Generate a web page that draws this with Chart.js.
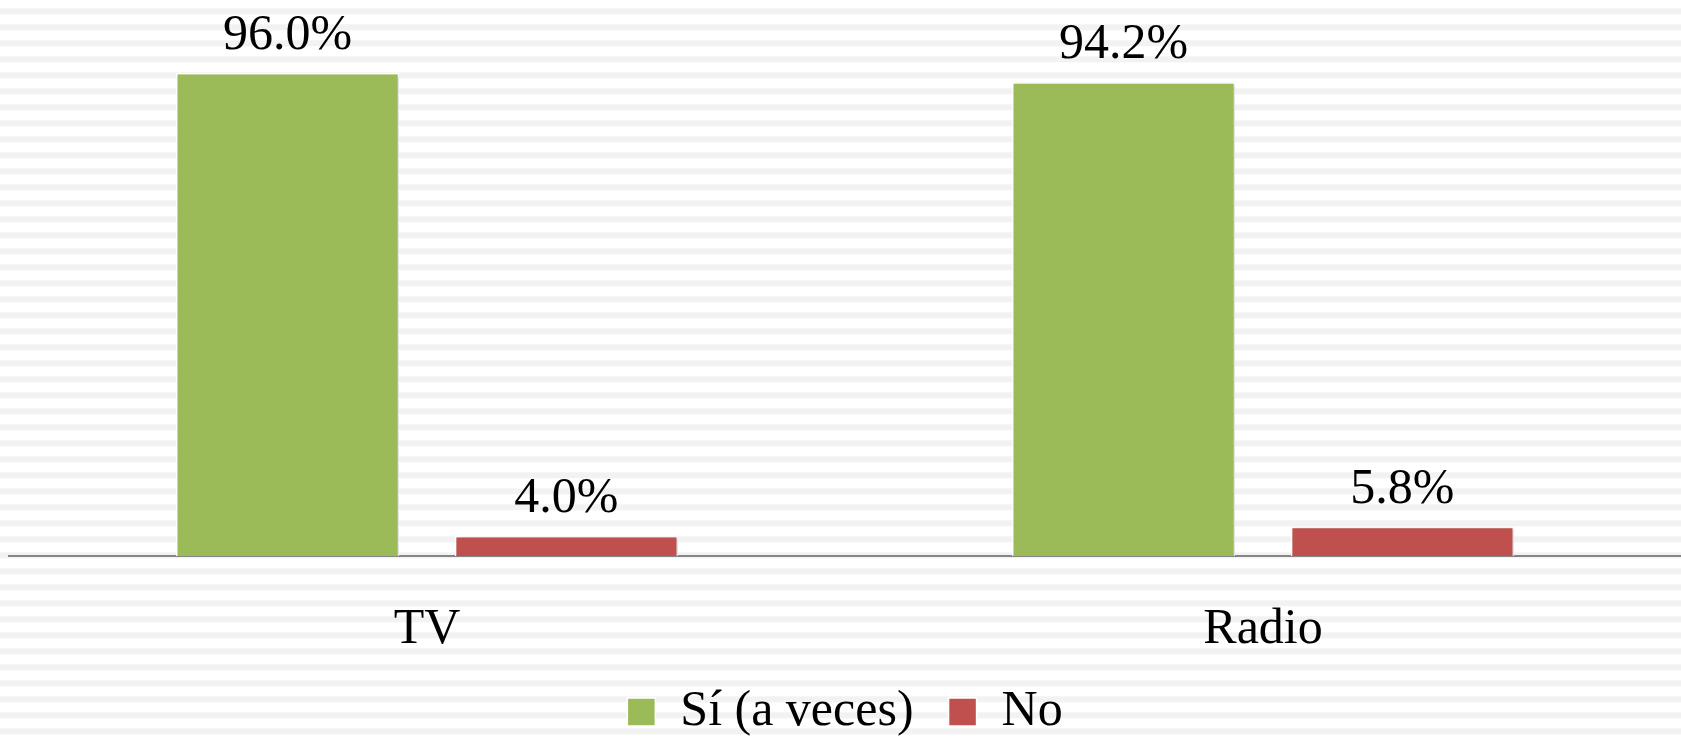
<!DOCTYPE html>
<html>
<head>
<meta charset="utf-8">
<script src="https://cdn.jsdelivr.net/npm/chart.js@4"></script>
<style>
    html, body { margin: 0; padding: 0; background: #fff; }
    #wrap { width: 1681px; height: 736px; }
</style>
</head>
<body>
<div id="wrap"><canvas id="chart"></canvas></div>
<script>
"use strict";

const categories = ["TV", "Radio"];
const seriesNames = ["Sí (a veces)", "No"];
const siValues = [96.0, 94.2];
const noValues = [4.0, 5.8];
const seriesColors = ["#9bbb59", "#c0504d"];

const FONT = "'Liberation Serif', 'Times New Roman', serif";

// striped background like the slide template
const stripes = {
    id: "stripes",
    beforeDraw(chart) {
        const { ctx, width, height } = chart;
        ctx.save();
        ctx.fillStyle = "#ffffff";
        ctx.fillRect(0, 0, width, height);
        ctx.fillStyle = "#f2f2f2";
        for (let y = 8.3; y < height; y += 16) {
            ctx.fillRect(0, y, width, 6);
        }
        ctx.restore();
    }
};

const barShadow = {
    id: "barShadow",
    beforeDatasetsDraw(chart) {
        const ctx = chart.ctx;
        ctx.save();
        ctx.shadowColor = "rgba(0, 0, 0, 0.22)";
        ctx.shadowBlur = 3;
        ctx.shadowOffsetX = 1.5;
        ctx.shadowOffsetY = 1;
    },
    afterDatasetsDraw(chart) {
        chart.ctx.restore();
    }
};

const valueLabels = {
    id: "valueLabels",
    afterDatasetsDraw(chart) {
        const ctx = chart.ctx;
        ctx.save();
        ctx.font = "50px " + FONT;
        ctx.fillStyle = "#000";
        ctx.textAlign = "center";
        ctx.textBaseline = "alphabetic";
        chart.data.datasets.forEach((ds, i) => {
            chart.getDatasetMeta(i).data.forEach((bar, j) => {
                ctx.fillText(ds.data[j].toFixed(1) + "%", bar.x, bar.y - 24);
            });
        });
        ctx.restore();
    }
};

new Chart(document.getElementById("chart").getContext("2d"), {
    type: "bar",
    data: {
        labels: categories,
        datasets: [
            { label: seriesNames[0], data: siValues, backgroundColor: seriesColors[0], borderColor: "#ffffff", borderWidth: 1.5 },
            { label: seriesNames[1], data: noValues, backgroundColor: seriesColors[1], borderColor: "#ffffff", borderWidth: 1.5 }
        ]
    },
    options: {
        responsive: true,
        maintainAspectRatio: false,
        animation: false,
        categoryPercentage: 0.667,
        barPercentage: 0.80,
        layout: { padding: { top: 53, left: 9, right: 0, bottom: -11 } },
        plugins: {
            legend: {
                position: "bottom",
                labels: {
                    font: { family: FONT, size: 50 },
                    color: "#000",
                    boxWidth: 28,
                    boxHeight: 28,
                    padding: 35
                }
            },
            tooltip: { enabled: false }
        },
        scales: {
            x: {
                grid: { display: false, drawTicks: false },
                border: { display: true, color: "#868686", width: 2 },
                ticks: { font: { family: FONT, size: 50 }, color: "#000", padding: 44 },
                // padding is counted twice by fit(); take the extra back
                afterFit(scale) { scale.height -= 52; }
            },
            y: {
                display: false,
                min: 0,
                max: 100
            }
        }
    },
    plugins: [stripes, barShadow, valueLabels]
});
</script>
</body>
</html>
